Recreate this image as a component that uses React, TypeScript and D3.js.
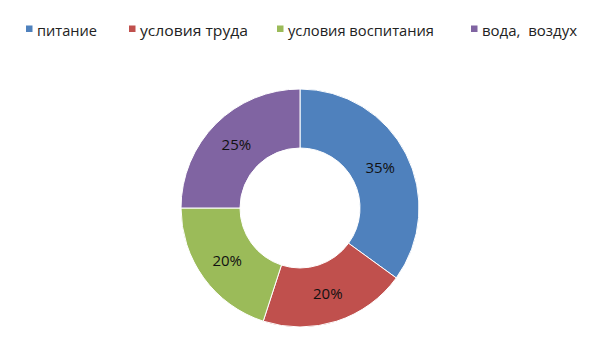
import React from "react";
import * as d3 from "d3";

const categories = ["питание", "условия труда", "условия воспитания", "вода,  воздух"];
const values = [35, 20, 20, 25];
const colors = ["#4F81BD", "#C0504D", "#9BBB59", "#8064A2"];
const legendX = [26, 129, 277, 471];
const legendTextW = [60, 108, 146, 95];

export default function App() {
  const W = 600, H = 351;
  const cx = 300, cy = 208, rOuter = 119, rInner = 60;
  const pie = d3.pie<number>().sort(null).value((d) => d);
  const arcs = pie(values);
  const arc = d3.arc<d3.PieArcDatum<number>>().innerRadius(rInner).outerRadius(rOuter);
  const labelArc = d3.arc<d3.PieArcDatum<number>>().innerRadius(90).outerRadius(90);
  const total = d3.sum(values);
  return (
    <svg width={W} height={H} style={{ position: "absolute", left: 0, top: 0, background: "#fff" }}
      fontFamily="'Open Sans', 'Noto Sans', sans-serif">
      <g transform={`translate(${cx},${cy})`}>
        {arcs.map((a, i) => (
          <path key={i} d={arc(a) || ""} fill={colors[i]} stroke="#ffffff" strokeWidth={1} />
        ))}
        {arcs.map((a, i) => {
          const [x, y] = labelArc.centroid(a);
          return (
            <text key={i} x={x} y={y} dy="0.36em" textAnchor="middle" fontSize={15} fill="#111">
              {Math.round((values[i] / total) * 100)}%
            </text>
          );
        })}
      </g>
      {categories.map((c, i) => (
        <g key={i}>
          <rect x={legendX[i]} y={25.5} width={6.5} height={6.5} fill={colors[i]} />
          <text x={legendX[i] + 11} y={36} fontSize={14.5} fill="#222"
            textLength={legendTextW[i]} lengthAdjust="spacingAndGlyphs" style={{ whiteSpace: "pre" }}>
            {c}
          </text>
        </g>
      ))}
    </svg>
  );
}
